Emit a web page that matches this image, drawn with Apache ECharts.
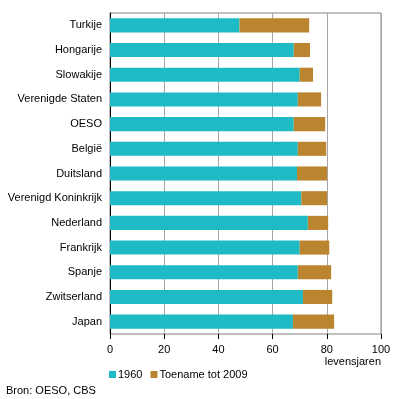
<!DOCTYPE html>
<html>
<head>
<meta charset="utf-8">
<script src="https://cdn.jsdelivr.net/npm/echarts@6/dist/echarts.min.js"></script>
<style>
  html, body { margin: 0; padding: 0; background: #fff; }
  #chart { width: 396px; height: 399px; }
</style>
</head>
<body>
<div id="chart"></div>
<script>
// landen, van onder naar boven zoals in de grafiek
const countries = ['Japan', 'Zwitserland', 'Spanje', 'Frankrijk', 'Nederland', 'Verenigd Koninkrijk',
  'Duitsland', 'België', 'OESO', 'Verenigde Staten', 'Slowakije', 'Hongarije', 'Turkije']
// levensverwachting 1960
const value1960 = [67.5, 71.2, 69.3, 70.0, 73.0, 70.6, 69.0, 69.3, 67.8, 69.3, 70.0, 67.8, 47.8]
// toename tot 2009
const increase = [15.2, 10.8, 12.3, 10.9, 7.5, 9.5, 11.1, 10.5, 11.6, 8.6, 4.9, 6.0, 25.7]
const xTicks = [0, 20, 40, 60, 80, 100]

const teal = '#1ebbc6'
const brown = '#bb852f'
const font = 'Arial, "Liberation Sans", sans-serif'

const chart = echarts.init(document.getElementById('chart'))
chart.setOption({
  animation: false,
  textStyle: { fontFamily: font },
  grid: { left: 110, right: 15, top: 13, bottom: 65 },
  xAxis: {
    type: 'value',
    min: xTicks[0],
    max: xTicks[xTicks.length - 1],
    interval: 20,
    name: 'levensjaren',
    nameLocation: 'end',
    nameGap: 0,
    nameTextStyle: {
      color: '#000', fontSize: 11, fontFamily: font,
      align: 'right', verticalAlign: 'top', padding: [22, 0, 0, 0]
    },
    axisLine: { lineStyle: { color: '#000', width: 1 } },
    axisTick: { show: true, length: 5, lineStyle: { color: '#000' } },
    axisLabel: { color: '#000', fontSize: 11, margin: 10 },
    splitLine: { show: true, lineStyle: { color: '#a6a6a6', width: 1 } }
  },
  yAxis: {
    type: 'category',
    data: countries,
    axisLine: { lineStyle: { color: '#000', width: 1 } },
    axisTick: { show: false },
    axisLabel: { color: '#000', fontSize: 11, margin: 8 },
    splitLine: { show: false }
  },
  legend: {
    left: 104,
    top: 364,
    itemWidth: 7,
    itemHeight: 7,
    itemGap: 8,
    icon: 'rect',
    textStyle: { color: '#000', fontSize: 11, fontFamily: font, padding: [0, 0, 0, -3] },
    data: ['1960', 'Toename tot 2009']
  },
  graphic: [
    {
      type: 'rect',
      shape: { x: 110, y: 13, width: 271, height: 321 },
      style: { fill: 'none', stroke: '#808080', lineWidth: 1 },
      silent: true,
      z: -1
    },
    {
      type: 'text',
      left: 6,
      top: 385,
      style: { text: 'Bron: OESO, CBS', fill: '#000', font: '11px ' + font }
    }
  ],
  series: [
    {
      name: '1960',
      type: 'bar',
      stack: 'total',
      barCategoryGap: '43%',
      data: value1960,
      itemStyle: { color: teal }
    },
    {
      name: 'Toename tot 2009',
      type: 'bar',
      stack: 'total',
      data: increase,
      itemStyle: { color: brown }
    }
  ]
})
</script>
</body>
</html>
